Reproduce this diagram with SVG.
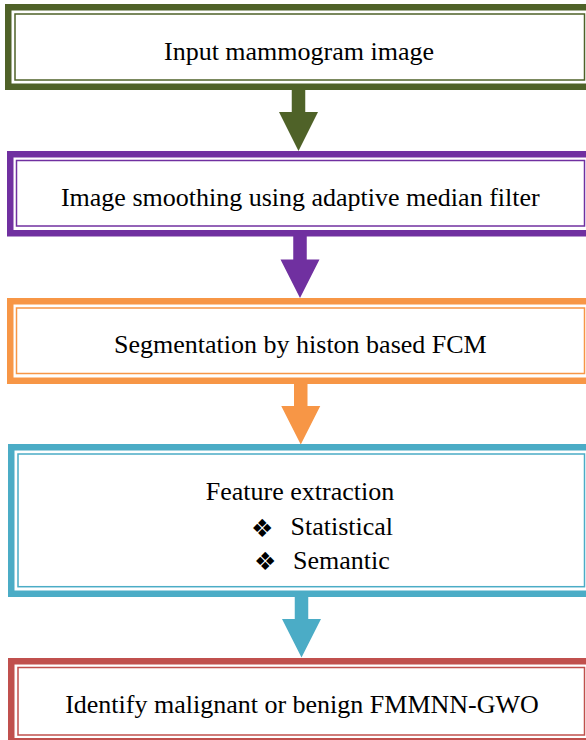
<svg xmlns="http://www.w3.org/2000/svg" width="586" height="740" viewBox="0 0 586 740">
  <style>
    .thick { fill: #FFFFFF; stroke-width: 6.5; }
    .thin { fill: none; stroke-width: 1.5; }
    .lbl { font-family: "Liberation Serif", "Times New Roman", serif; font-size: 26px; fill: #000000; text-anchor: middle; }
    .lbl-l { font-family: "Liberation Serif", "Times New Roman", serif; font-size: 26px; fill: #000000; }
    .bul { font-family: "DejaVu Sans", sans-serif; font-size: 25px; fill: #000000; }
    .green { stroke: #4F6228; }
    .purple { stroke: #7030A0; }
    .orange { stroke: #F79646; }
    .blue { stroke: #4BACC6; }
    .red { stroke: #C0504D; }
  </style>
  <rect x="0" y="0" width="586" height="740" fill="#FFFFFF"/>

  <g id="connectors">
    <polygon fill="#4F6228" points="291.75,90 305.25,90 305.25,112 318,112 298.5,151 279,112 291.75,112"/>
    <polygon fill="#7030A0" points="293.25,236 306.75,236 306.75,259.5 319.5,259.5 300,298 280.5,259.5 293.25,259.5"/>
    <polygon fill="#F79646" points="294,384 307.5,384 307.5,406 320.25,406 300.75,444.5 281.25,406 294,406"/>
    <polygon fill="#4BACC6" points="294.75,597 308.25,597 308.25,619 321,619 301.5,657.5 282,619 294.75,619"/>
  </g>

  <g id="node-input">
    <rect class="thick green" x="8.25" y="7.25" width="582.5" height="79.5"/>
    <rect class="thin green" x="15" y="14" width="569.5" height="66"/>
    <text class="lbl" x="299" y="60">Input mammogram image</text>
  </g>

  <g id="node-smoothing">
    <rect class="thick purple" x="10.25" y="154.25" width="580.5" height="79"/>
    <rect class="thin purple" x="16.5" y="160.5" width="568" height="65.5"/>
    <text class="lbl" x="300.3" y="206">Image smoothing using adaptive median filter</text>
  </g>

  <g id="node-segmentation">
    <rect class="thick orange" x="10.25" y="301.25" width="580.5" height="79.5"/>
    <rect class="thin orange" x="16.5" y="308" width="568" height="65.5"/>
    <text class="lbl" x="300.4" y="353">Segmentation by histon based FCM</text>
  </g>

  <g id="node-features">
    <rect class="thick blue" x="11.25" y="447.25" width="579.5" height="146.5"/>
    <rect class="thin blue" x="18" y="454" width="566.5" height="132.7"/>
    <text class="lbl" x="300" y="500">Feature extraction</text>
    <text class="bul" x="251" y="537">❖</text>
    <text class="lbl-l" x="290.5" y="535">Statistical</text>
    <text class="bul" x="254" y="570">❖</text>
    <text class="lbl-l" x="293" y="569">Semantic</text>
  </g>

  <g id="node-identify">
    <rect class="thick red" x="11.25" y="661.25" width="579.5" height="80"/>
    <rect class="thin red" x="18" y="667.5" width="566.5" height="67.5"/>
    <text class="lbl" x="302" y="713">Identify malignant or benign FMMNN-GWO</text>
  </g>
</svg>
